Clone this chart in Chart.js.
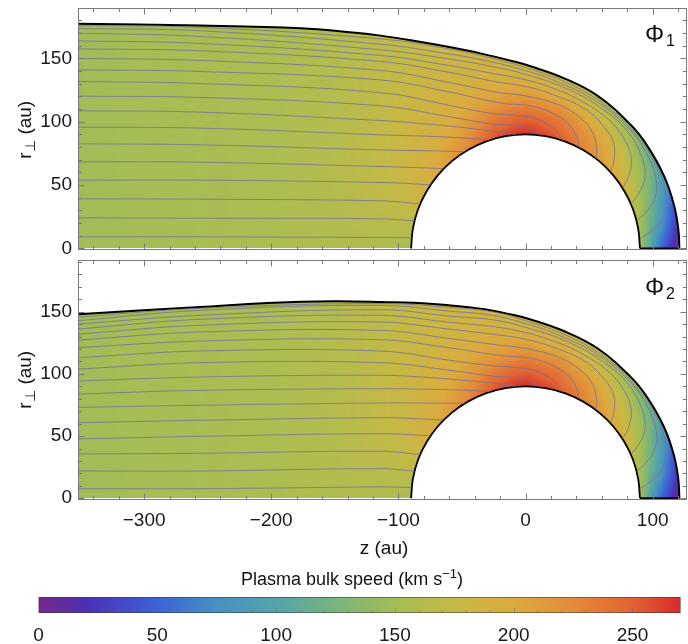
<!DOCTYPE html>
<html>
<head>
<meta charset="utf-8">
<title>Plasma bulk speed, Phi1 / Phi2</title>
<script src="https://cdn.jsdelivr.net/npm/chart.js"></script>
<style>
  body { margin: 0; background: #fff; }
  canvas { position: absolute; left: 0; }
</style>
</head>
<body>
<canvas id="phi1" width="688" height="255" style="top:0px"></canvas>
<canvas id="phi2" width="688" height="315" style="top:250px"></canvas>
<canvas id="bar" width="688" height="79" style="top:565px"></canvas>

<script>
// ---- axes / ticks ----
const zTicks = [-300, -200, -100, 0, 100];
const rTicks = [0, 50, 100, 150];
const speedTicks = [0, 50, 100, 150, 200, 250];
const speedMax = 270;

// ---- termination shock (same in both panels) ----
const tsZ = [90, 88.6, 84.6, 77.9, 68.9, 57.9, 45, 30.8, 15.6, 0, -15.6, -30.8, -45, -57.9, -68.9, -77.9, -84.6, -88.6, -90];
const tsR = [0, 15.6, 30.8, 45, 57.9, 68.9, 77.9, 84.6, 88.6, 90, 88.6, 84.6, 77.9, 68.9, 57.9, 45, 30.8, 15.6, 0];

// ---- heliopause ----
const hp1Z = [121, 120.2, 116.8, 109, 95.8, 82.7, 56.5, 30, 4, -9.2, -35.4, -62, -88, -114, -138, -177, -256, -352];
const hp1R = [0, 15, 34.2, 57.1, 81, 97.6, 120.6, 134.5, 143.8, 147.6, 154, 159.4, 164, 168, 170.7, 173.9, 176, 177.3];
const hp2Z = [121, 120.2, 116.8, 109, 95.8, 82.7, 56.5, 30, 4, -9.2, -35.4, -75, -114, -151, -203, -256, -352];
const hp2R = [0, 15, 34.2, 57.1, 81, 97.6, 120.6, 134.5, 143.8, 147.3, 152.4, 156.4, 157.8, 158.4, 157, 153.8, 148];

// ---- streamlines: part near the shock (shared), then tail parts per panel ----
const noseParts = [
  [[-89.6, 8.6]],
  [[-87.3, 21.8]],
  [[-82.8, 35.2]],
  [[-74.6, 50.3]],
  [[-64.3, 63]],
  [[-47.7, 76.3]],
  [[-27.8, 85.6]],
  [[-7.8, 89.7], [-12.8, 91.1], [-23, 92.2]],
  [[12.5, 89.1], [8.1, 92.1], [0, 95.5], [-11.9, 97.3], [-26.1, 98.2]],
  [[29.3, 85.1], [26, 90.6], [18.9, 97.1], [7.2, 102.7], [-9.2, 105.3], [-28, 106.8]],
  [[42.3, 79.5], [40.6, 87], [35.2, 96.8], [24.3, 105.2], [5.9, 112.2], [-20.3, 114.9]],
  [[55.4, 70.9], [55.9, 79.9], [52.8, 91.4], [43.6, 102.8], [26.2, 113.3], [0, 120.5], [-21.7, 123.2]],
  [[66.9, 60.2], [69.5, 69.5], [69.4, 82.7], [62.1, 95.6], [46.7, 110.1], [21.4, 121.6], [0, 127.9], [-23.2, 131.6]],
  [[76.3, 47.7], [80.9, 56.6], [83.2, 69.8], [78.7, 84.4], [65.8, 101.3], [42.6, 117.2], [22.3, 126.3], [0, 133.2], [-24.3, 137.9]],
  [[82.8, 35.2], [89.2, 43.5], [94, 56.4], [91.6, 71.5], [81.6, 90.7], [62.7, 108.5], [33.9, 125.5], [0, 137.4], [-25.3, 143.4]],
  [[87.3, 21.8], [95.3, 29.2], [102.3, 41.3], [102.3, 56.7], [94.4, 76.5], [80.4, 95.4], [54.8, 116.6], [23.6, 132.2], [0, 140.4], [-26, 147.1]],
  [[89.7, 7.8], [99.5, 14], [108.3, 25], [110.3, 40.2], [105.3, 60.8], [88.3, 88], [64.9, 111.4], [35.2, 129.6], [0, 142.8], [-26.6, 150.2]]
];

const tailParts1 = [
  [[-114, 8.7], [-256, 9.2], [-352, 9.2]],
  [[-114, 23.4], [-256, 23.9], [-352, 24.2]],
  [[-114, 37.6], [-256, 38.9], [-352, 39.2]],
  [[-114, 52.1], [-256, 53.9], [-352, 53.9]],
  [[-85, 63.8], [-114, 64.7], [-256, 68.1], [-352, 68.4]],
  [[-70, 77], [-114, 77.8], [-256, 81.8], [-352, 82.6]],
  [[-45, 87], [-75, 88.5], [-114, 89.7], [-256, 95], [-352, 95.7]],
  [[-45, 95], [-75, 98], [-114, 101], [-256, 107.6], [-352, 108.7]],
  [[-60, 104], [-114, 112.6], [-256, 119.2], [-352, 120.2]],
  [[-60, 113], [-114, 123], [-256, 130.2], [-352, 131.8]],
  [[-60, 123.5], [-114, 133], [-256, 139.7], [-352, 141]],
  [[-60, 131], [-114, 140.5], [-256, 148.4], [-352, 150]],
  [[-60, 139], [-114, 147.6], [-256, 156], [-352, 157.6]],
  [[-60, 144.4], [-114, 152.3], [-256, 161.8], [-352, 163.9]],
  [[-60, 149.5], [-114, 156.8], [-256, 167.3], [-352, 170]],
  [[-60, 153.5], [-114, 161.2], [-256, 171.8], [-352, 173.6]],
  [[-60, 157.5], [-114, 165.4], [-256, 174.5], [-352, 176]]
];

const tailParts2 = [
  [[-114, 9.1], [-256, 7.7], [-352, 7.7]],
  [[-114, 23.8], [-256, 21.9], [-352, 21.9]],
  [[-114, 37.8], [-256, 36.2], [-352, 35.6]],
  [[-114, 51.9], [-256, 49.8], [-352, 47.7]],
  [[-85, 63.9], [-114, 64.8], [-256, 62.7], [-352, 60.8]],
  [[-70, 76.5], [-114, 76.6], [-256, 74.8], [-352, 73.1]],
  [[-45, 86.8], [-75, 87.6], [-114, 88.1], [-256, 86.8], [-352, 83.8]],
  [[-45, 94.5], [-75, 97], [-114, 98.9], [-256, 97.5], [-352, 94.3]],
  [[-60, 103], [-114, 109], [-256, 109], [-352, 103.9]],
  [[-60, 111], [-114, 118.4], [-256, 118.4], [-352, 113]],
  [[-60, 121], [-114, 127.5], [-256, 126.4], [-352, 121.1]],
  [[-60, 128.5], [-114, 135], [-256, 133.7], [-352, 127.2]],
  [[-60, 136], [-114, 141.7], [-256, 139.1], [-352, 132]],
  [[-60, 141.5], [-114, 147.1], [-256, 143.9], [-352, 136.1]],
  [[-60, 146.5], [-114, 151.6], [-256, 147.1], [-352, 140.1]],
  [[-60, 150.5], [-114, 155.1], [-256, 151.1], [-352, 142.8]],
  [[-60, 153.5], [-114, 156.6], [-256, 152.8], [-352, 145.6]]
];

// ---- plasma speed (km/s) read along rays from the origin ----
const thetaCols = [0, 15, 30, 45, 60, 75, 90, 105, 120, 135, 150, 165, 180];   // degrees from +z
const rhoRows = [90, 105, 120, 140, 170, 220, 300, 400];                       // au
const speedRho90  = [148, 163, 185, 207, 232, 257, 270, 258, 228, 206, 188, 170, 152];
const speedRho105 = [ 60, 108, 148, 180, 210, 235, 245, 232, 208, 191, 180, 168, 158];
const speedRho120 = [  0,  45, 105, 143, 175, 203, 214, 207, 195, 185, 176, 167, 160];
const speedRho140 = [  0,  20,  75, 118, 150, 168, 183, 190, 186, 178, 170, 164, 160];
const speedRho170 = [  0,  10,  50,  90, 130, 155, 175, 178, 176, 168, 163, 160, 158];
const speedRho220 = [  0,  10,  50,  90, 130, 155, 170, 170, 166, 160, 157, 155, 155];
const speedRho300 = [  0,  10,  50,  90, 130, 155, 165, 162, 158, 155, 153, 151, 150];
const speedRho400 = [  0,  10,  50,  90, 130, 150, 155, 152, 150, 149, 148, 147, 147];
const speedRows = [speedRho90, speedRho105, speedRho120, speedRho140, speedRho170, speedRho220, speedRho300, speedRho400];

// colour map (style)
const cmapVals = [0, 20, 50, 75, 100, 125, 150, 175, 200, 225, 250, 270];
const cmapRGB = [[120,40,140],[75,48,180],[62,98,214],[70,144,196],[85,163,168],[120,180,124],
                 [164,189,85],[198,185,69],[220,170,62],[227,139,57],[226,98,51],[217,42,42]];

const FONT = '"Liberation Sans", Arial, Helvetica, sans-serif';
Chart.defaults.font.family = FONT;
Chart.defaults.font.size = 19;
Chart.defaults.color = '#1a1a1a';

function cmap(v) {
  v = Math.max(0, Math.min(speedMax, v));
  let k = 0;
  while (k < cmapVals.length - 2 && v > cmapVals[k + 1]) k++;
  const t = (v - cmapVals[k]) / (cmapVals[k + 1] - cmapVals[k]);
  const a = cmapRGB[k], b = cmapRGB[k + 1];
  return [a[0] + (b[0] - a[0]) * t, a[1] + (b[1] - a[1]) * t, a[2] + (b[2] - a[2]) * t];
}

function speedAt(z, r) {
  const rho = Math.hypot(z, r);
  const th = Math.atan2(r, z) * 180 / Math.PI;
  let i = 0;
  while (i < thetaCols.length - 2 && th > thetaCols[i + 1]) i++;
  const ti = Math.min(1, Math.max(0, (th - thetaCols[i]) / (thetaCols[i + 1] - thetaCols[i])));
  let k = 0;
  while (k < rhoRows.length - 2 && rho > rhoRows[k + 1]) k++;
  const tk = Math.min(1, Math.max(0, (rho - rhoRows[k]) / (rhoRows[k + 1] - rhoRows[k])));
  const A = speedRows[k], B = speedRows[k + 1];
  const a = A[i] + (A[i + 1] - A[i]) * ti;
  const b = B[i] + (B[i + 1] - B[i]) * ti;
  return a + (b - a) * tk;
}

// r of a boundary at z (arrays run from +z to -z), -1 when outside its range
function rAt(zs, rs, z) {
  if (z > zs[0] || z < zs[zs.length - 1]) return -1;
  for (let k = 0; k < zs.length - 1; k++) {
    if (z <= zs[k] && z >= zs[k + 1]) {
      const t = (z - zs[k]) / (zs[k + 1] - zs[k]);
      return rs[k] + t * (rs[k + 1] - rs[k]);
    }
  }
  return -1;
}

function drawField(chart, hpZ, hpR) {
  const { ctx, chartArea: a, scales: { x, y } } = chart;
  const L = Math.round(a.left), T = Math.round(a.top);
  const w = Math.round(a.right) - L, h = Math.round(a.bottom) - T;
  const img = ctx.createImageData(w, h);
  const d = img.data;
  for (let i = 0; i < w; i++) {
    const z = x.getValueForPixel(L + i + 0.5);
    const rHP = rAt(hpZ, hpR, z);
    const rTS = rAt(tsZ, tsR, z);
    for (let j = 0; j < h; j++) {
      const r = y.getValueForPixel(T + j + 0.5);
      if (r < 0 || r > rHP || r < rTS) continue;
      const c = cmap(speedAt(z, r));
      const o = (j * w + i) * 4;
      d[o] = c[0]; d[o + 1] = c[1]; d[o + 2] = c[2]; d[o + 3] = 255;
    }
  }
  ctx.putImageData(img, L, T);
}

function regionPath(chart, hpZ, hpR) {
  const { ctx, scales: { x, y } } = chart;
  ctx.beginPath();
  hpZ.forEach((z, i) => {
    const px = x.getPixelForValue(z), py = y.getPixelForValue(hpR[i]);
    if (i) ctx.lineTo(px, py); else ctx.moveTo(px, py);
  });
  ctx.lineTo(x.getPixelForValue(hpZ[hpZ.length - 1]), y.getPixelForValue(0));
  for (let i = tsZ.length - 1; i >= 0; i--) ctx.lineTo(x.getPixelForValue(tsZ[i]), y.getPixelForValue(tsR[i]));
  ctx.closePath();
}

function drawFrame(chart) {
  const { ctx, chartArea: a, scales: { x, y } } = chart;
  const L = Math.round(a.left) + 0.5, R = Math.round(a.right) - 0.5;
  const T = Math.round(a.top) + 0.5, B = Math.round(a.bottom) - 0.5;
  ctx.save();
  ctx.strokeStyle = '#7a7a7a';
  ctx.lineWidth = 1;
  ctx.strokeRect(L, T, R - L, B - T);
  ctx.beginPath();
  for (let v = -340; v <= 120; v += 20) {
    const px = Math.round(x.getPixelForValue(v)) + 0.5;
    const len = v % 100 === 0 ? 6 : 3.5;
    ctx.moveTo(px, T); ctx.lineTo(px, T + len);
    ctx.moveTo(px, B); ctx.lineTo(px, B - len);
  }
  for (let v = 0; v <= y.max; v += 10) {
    const py = Math.round(y.getPixelForValue(v)) + 0.5;
    const len = v % 50 === 0 ? 6 : 3.5;
    ctx.moveTo(L, py); ctx.lineTo(L + len, py);
    ctx.moveTo(R, py); ctx.lineTo(R - len, py);
  }
  ctx.stroke();
  ctx.restore();
}

function drawTexts(chart, o) {
  const ctx = chart.ctx;
  ctx.save();
  ctx.fillStyle = '#111';
  ctx.textBaseline = 'alphabetic';
  // panel label
  ctx.font = '24px ' + FONT;
  ctx.fillText('\u03A6', 645, o.phiBase);
  ctx.font = '16px ' + FONT;
  ctx.fillText(o.sub, 666, o.phiBase + 4);
  // y title, rotated
  ctx.save();
  ctx.translate(31, o.yTitleMid);
  ctx.rotate(-Math.PI / 2);
  ctx.font = '19px ' + FONT;
  const w1 = ctx.measureText('r').width, w3 = ctx.measureText(' (au)').width;
  ctx.font = '14px ' + FONT;
  const w2 = ctx.measureText('\u22A5').width;
  const x0 = -(w1 + w2 + w3) / 2;
  ctx.font = '19px ' + FONT;
  ctx.fillText('r', x0, 0);
  ctx.font = '14px ' + FONT;
  ctx.fillText('\u22A5', x0 + w1 + 0.5, 3.5);
  ctx.font = '19px ' + FONT;
  ctx.fillText(' (au)', x0 + w1 + w2 + 0.5, 0);
  ctx.restore();
  if (o.zTitle) {
    ctx.font = '19px ' + FONT;
    ctx.textAlign = 'center';
    ctx.fillText('z (au)', 384, o.zTitle);
  }
  ctx.restore();
}

const panelDeco = {
  id: 'panelDeco',
  beforeDatasetsDraw(chart, args, o) { drawField(chart, o.hpZ, o.hpR); },
  beforeDatasetDraw(chart, args, o) {
    if (!chart.data.datasets[args.index].clipRegion) return;
    chart.ctx.save();
    regionPath(chart, o.hpZ, o.hpR);
    chart.ctx.clip();
  },
  afterDatasetDraw(chart, args) {
    if (chart.data.datasets[args.index].clipRegion) chart.ctx.restore();
  },
  afterDraw(chart, args, o) { drawFrame(chart); drawTexts(chart, o); }
};

function pts(list) { return list.map(p => ({ x: p[0], y: p[1] })); }

function noPad(s) { s.paddingTop = 0; s.paddingBottom = 0; s.paddingLeft = 0; s.paddingRight = 0; }

function makePanel(id, tails, hpZ, hpR, yMin, yMax, opts) {
  const datasets = noseParts.map((nose, i) => ({
    data: pts(nose.concat(tails[i])),
    showLine: true, pointRadius: 0, tension: 0.4,
    borderColor: 'rgba(118,114,150,0.8)', borderWidth: 1, clipRegion: true
  }));
  datasets.push({ data: tsZ.map((z, i) => ({ x: z, y: tsR[i] })), showLine: true, pointRadius: 0,
                  tension: 0.4, borderColor: '#000', borderWidth: 1.8 });
  datasets.push({ data: hpZ.map((z, i) => ({ x: z, y: hpR[i] })), showLine: true, pointRadius: 0,
                  tension: 0.4, borderColor: '#000', borderWidth: 2 });
  datasets.push({ data: [{ x: tsZ[0], y: 0 }, { x: hpZ[0], y: 0 }], showLine: true, pointRadius: 0,
                  borderColor: '#000', borderWidth: 2 });

  return new Chart(document.getElementById(id), {
    type: 'scatter',
    data: { datasets },
    options: {
      responsive: false, animation: false, devicePixelRatio: 1,
      layout: { padding: { top: opts.padTop, right: 1, bottom: opts.showX ? 0 : 5, left: 0 } },
      plugins: {
        legend: { display: false }, tooltip: { enabled: false },
        panelDeco: Object.assign({ hpZ, hpR }, opts)
      },
      scales: {
        x: {
          type: 'linear', min: -352, max: 127, display: opts.showX,
          grid: { display: false, drawTicks: false }, border: { display: false },
          ticks: { padding: 9, color: '#1a1a1a', callback: v => v < 0 ? '\u2212' + (-v) : String(v) },
          afterBuildTicks: s => { s.ticks = zTicks.map(v => ({ value: v })); },
          afterFit: s => { noPad(s); s.height = opts.showX ? 65 : 0; }
        },
        y: {
          type: 'linear', min: yMin, max: yMax,
          grid: { display: false, drawTicks: false }, border: { display: false },
          ticks: { padding: 6, color: '#1a1a1a' },
          afterBuildTicks: s => { s.ticks = rTicks.map(v => ({ value: v })); },
          afterFit: s => { noPad(s); s.width = 78; }
        }
      }
    },
    plugins: [panelDeco]
  });
}

makePanel('phi1', tailParts1, hp1Z, hp1R, -1.2, 189.8,
          { showX: false, padTop: 8, sub: '1', phiBase: 41.5, yTitleMid: 130 });
makePanel('phi2', tailParts2, hp2Z, hp2R, -1.4, 191.6,
          { showX: true, padTop: 10, sub: '2', phiBase: 44.5, yTitleMid: 130, zTitle: 304 });

// ---- colour bar ----
function barGradient(chart) {
  const a = chart.chartArea;
  if (!a) return '#888';
  const xs = chart.scales.x;
  const x0 = xs.getPixelForValue(0), x1 = xs.getPixelForValue(speedMax);
  const g = chart.ctx.createLinearGradient(x0, 0, x1, 0);
  cmapVals.forEach((v, i) => {
    const c = cmapRGB[i];
    g.addColorStop(v / speedMax, 'rgb(' + c[0] + ',' + c[1] + ',' + c[2] + ')');
  });
  return g;
}

const barDeco = {
  id: 'barDeco',
  afterDraw(chart) {
    const { ctx, chartArea: a, scales: { x } } = chart;
    ctx.save();
    ctx.strokeStyle = 'rgba(60,60,60,0.55)';
    ctx.lineWidth = 1;
    ctx.strokeRect(Math.round(a.left) + 0.5, Math.round(a.top) + 0.5, Math.round(a.right - a.left) - 1, Math.round(a.bottom - a.top) - 1);
    ctx.strokeStyle = 'rgba(90,90,90,0.35)';
    ctx.beginPath();
    for (let v = 10; v < speedMax; v += 10) {
      const px = Math.round(x.getPixelForValue(v)) + 0.5;
      ctx.moveTo(px, a.bottom); ctx.lineTo(px, a.bottom - (v % 50 === 0 ? 5 : 3));
    }
    ctx.stroke();
    // title
    ctx.fillStyle = '#111';
    ctx.textBaseline = 'alphabetic';
    ctx.font = '18px ' + FONT;
    const t1 = 'Plasma bulk speed (km s', t3 = ')';
    const w1 = ctx.measureText(t1).width, w3 = ctx.measureText(t3).width;
    ctx.font = '13px ' + FONT;
    const w2 = ctx.measureText('\u22121').width;
    let x0 = 352 - (w1 + w2 + w3) / 2;
    ctx.font = '18px ' + FONT;
    ctx.fillText(t1, x0, 20);
    ctx.font = '13px ' + FONT;
    ctx.fillText('\u22121', x0 + w1, 13);
    ctx.font = '18px ' + FONT;
    ctx.fillText(t3, x0 + w1 + w2, 20);
    ctx.restore();
  }
};

new Chart(document.getElementById('bar'), {
  type: 'bar',
  data: {
    labels: [''],
    datasets: [{
      data: [[0, speedMax]],
      backgroundColor: c => barGradient(c.chart),
      borderWidth: 0, barPercentage: 1, categoryPercentage: 1
    }]
  },
  options: {
    indexAxis: 'y', responsive: false, animation: false, devicePixelRatio: 1,
    layout: { padding: { left: 38.5, right: 8, top: 32, bottom: 0 } },
    plugins: { legend: { display: false }, tooltip: { enabled: false } },
    scales: {
      x: {
        type: 'linear', min: 0, max: speedMax,
        grid: { display: false, drawTicks: false }, border: { display: false },
        ticks: { padding: 11, color: '#1a1a1a' },
        afterBuildTicks: s => { s.ticks = speedTicks.map(v => ({ value: v })); },
        afterFit: s => { noPad(s); s.height = 31; }
      },
      y: { display: false }
    }
  },
  plugins: [barDeco]
});
</script>
</body>
</html>
